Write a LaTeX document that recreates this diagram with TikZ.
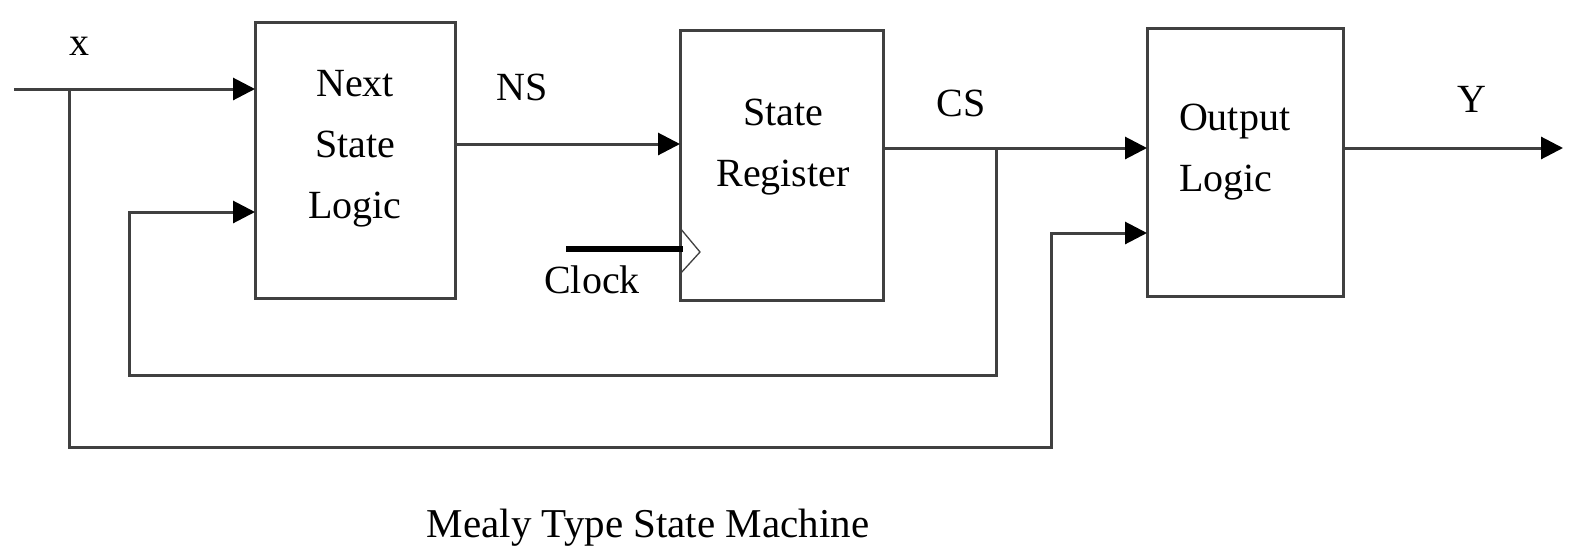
\documentclass[tikz,border=0pt]{standalone}
\usepackage{fontspec}
\setmainfont{Liberation Serif}
\usetikzlibrary{arrows.meta}
\definecolor{wirecol}{HTML}{404040}
\tikzset{
  wire/.style={draw=wirecol, line width=3pt},
  arr/.style={wire, -{Triangle[length=22pt,width=22pt,color=black]}},
  blockbox/.style={draw=wirecol, line width=3pt, rectangle, inner sep=0pt, outer sep=0pt},
  txt/.style={inner sep=0pt, outer sep=0pt, text=black, font=\fontsize{40}{61}\selectfont},
}
\begin{document}
\begin{tikzpicture}[x=1pt, y=-1pt]
\useasboundingbox (0,0) rectangle (1577,552);
% blocks
\node[blockbox, minimum width=200pt, minimum height=276pt] (nsl) at (355,160) {};
\node[blockbox, minimum width=203pt, minimum height=270pt] (sr) at (781.5,165) {};
\node[blockbox, minimum width=196pt, minimum height=268pt] (ol) at (1245,162) {};
% block texts
\node[txt, align=center] (nsltxt) at (355,148.5) {Next\\State\\Logic};
\node[txt, align=center] (srtxt) at (783,147.5) {State\\Register};
\node[txt, align=left, anchor=west] (oltxt) at (1179,152) {Output\\Logic};
% labels
\node[txt, anchor=base] (xlab) at (79,55) {x};
\node[txt, anchor=base] (nslab) at (522,100) {NS};
\node[txt, anchor=base] (cslab) at (961,116) {CS};
\node[txt, anchor=base] (ylab) at (1472,112) {Y};
\node[txt, anchor=base] (clklab) at (592,293) {Clock};
\node[txt, anchor=base, font=\fontsize{41}{50}\selectfont] (title) at (648,537) {Mealy Type State Machine};
% coordinates
\coordinate (xin) at (14,89);
\coordinate (xsplit) at (69,89);
\coordinate (xb) at (69,447);
\coordinate (ob) at (1051,233);
\coordinate (cssplit) at (996,148);
\coordinate (fbb) at (996,375);
\coordinate (fbl) at (129,212);
\coordinate (yout) at (1563,148);
\coordinate (clka) at (566,249);
\coordinate (clkb) at (683,249);
% connectors
\draw[arr] (xin) -- (xin -| nsl.west);
\draw[arr] (xsplit) -- (xb) -| (ob) -- (ob -| ol.west);
\draw[arr] (nsl.east |- 0,144) -- (sr.west |- 0,144);
\draw[arr] (sr.east |- cssplit) -- (cssplit -| ol.west);
\draw[arr] (cssplit) -- (fbb) -| (fbl) -- (fbl -| nsl.west);
\draw[arr] (ol.east |- yout) -- (yout);
% clock
\draw[line width=6pt, black] (clka) -- (clkb);
\draw[draw=wirecol, line width=1.3pt] (sr.west |- 0,228) -- (700,252) -- (sr.west |- 0,274);
\end{tikzpicture}
\end{document}
